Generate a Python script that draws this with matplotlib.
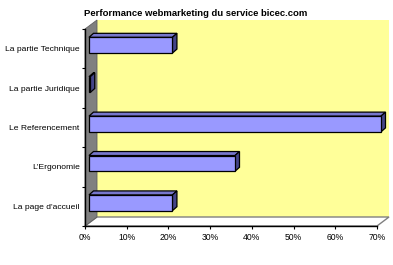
import matplotlib
matplotlib.use("Agg")
import matplotlib.pyplot as plt
from matplotlib.patches import Polygon
from matplotlib import transforms

categories = ["La page d'accueil", "L'Ergonomie", "Le Referencement",
              "La partie Juridique", "La partie Technique"]
values = [20, 35, 70, 0.3, 20]
xticks = [0, 10, 20, 30, 40, 50, 60, 70]
title = "Performance webmarketing du service bicec.com"

plt.rcParams['font.family'] = ['Liberation Sans', 'DejaVu Sans']

fig = plt.figure(figsize=(3.93, 2.65), dpi=100)
fig.patch.set_facecolor('white')
ax = fig.add_axes([85/393, (265-226)/265, (377-85)/393, (226-29)/265])
ax.set_xlim(0, 70)
ax.set_ylim(-0.5, len(categories) - 0.5)
ax.patch.set_visible(False)

def off(dx, dy):
    return transforms.offset_copy(ax.transData, fig=fig, x=dx, y=dy, units='dots')

x0, x1 = ax.get_xlim()
y0, y1 = ax.get_ylim()
DX, DY = 12, 9

# back wall
back = off(DX, DY)
ax.add_patch(Polygon([(x0, y0), (x1, y0), (x1, y1), (x0, y1)], closed=True,
                     transform=back, facecolor='#FFFF99', edgecolor='none',
                     clip_on=False, zorder=0))
# floor
fpts_front = ax.transData.transform([(x0, y0), (x1, y0)])
fpts_back = back.transform([(x1, y0), (x0, y0)])
ax.add_patch(Polygon(list(fpts_front) + list(fpts_back), closed=True,
                     transform=None, facecolor='white', edgecolor='#808080',
                     linewidth=1, clip_on=False, zorder=1))
# left wall
lf = ax.transData.transform([(x0, y0), (x0, y1)])
lb = back.transform([(x0, y1), (x0, y0)])
ax.add_patch(Polygon(list(lf) + list(lb), closed=True, transform=None,
                     facecolor='#808080', edgecolor='#606060', linewidth=0.6,
                     clip_on=False, zorder=1))

# bars
h = 0.40
fdx, fdy = 4, 3.5
bdx, bdy = 8.5, 7.5
for i, v in enumerate(values):
    front = off(fdx, fdy)
    fb = front.transform([(0, i - h/2), (v, i - h/2), (v, i + h/2), (0, i + h/2)])
    bk = off(bdx, bdy).transform([(0, i - h/2), (v, i - h/2), (v, i + h/2), (0, i + h/2)])
    # top face
    ax.add_patch(Polygon([fb[3], fb[2], bk[2], bk[3]], closed=True, transform=None,
                         facecolor='#7777CC', edgecolor='black', linewidth=0.9,
                         clip_on=False, zorder=3))
    # side face
    ax.add_patch(Polygon([fb[1], bk[1], bk[2], fb[2]], closed=True, transform=None,
                         facecolor='#444488', edgecolor='black', linewidth=0.9,
                         clip_on=False, zorder=3))
    # front face
    ax.add_patch(Polygon(fb, closed=True, transform=None,
                         facecolor='#9999FF', edgecolor='black', linewidth=0.9,
                         clip_on=False, zorder=4))

# axes
for s in ['top', 'right']:
    ax.spines[s].set_visible(False)
for s in ['left', 'bottom']:
    ax.spines[s].set_color('black')
    ax.spines[s].set_linewidth(1.0)
    ax.spines[s].set_zorder(5)

ax.set_xticks(xticks)
ax.set_xticklabels([f"{t}%" for t in xticks], fontsize=6.2)
ax.set_yticks([k - 0.5 for k in range(len(categories) + 1)])
ax.set_yticklabels([])
ax.set_yticks(range(len(categories)), minor=True)
ax.set_yticklabels(categories, minor=True, fontsize=6.1)
ax.tick_params(axis='y', which='major', direction='out', length=2.2, width=0.8, color='black')
ax.tick_params(axis='y', which='minor', length=0, pad=3.8)
ax.tick_params(axis='x', which='major', direction='out', length=2.2, width=0.8, pad=2.5)

fig.text(196/393, 1 - 13/265, title, ha='center', va='center',
         fontsize=6.8, fontweight='bold')

fig.savefig('out.png', dpi=100, facecolor='white')
